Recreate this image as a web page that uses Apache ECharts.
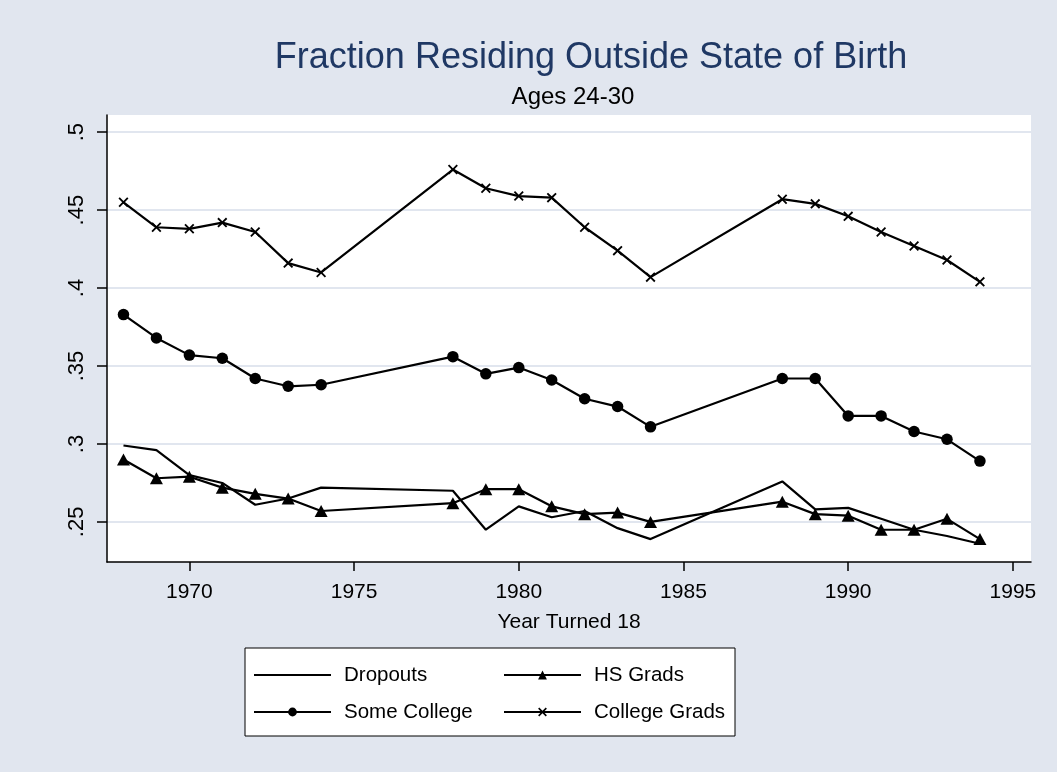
<!DOCTYPE html>
<html>
<head>
<meta charset="utf-8">
<script src="https://cdn.jsdelivr.net/npm/echarts@6/dist/echarts.min.js"></script>
<style>
html,body{margin:0;padding:0;background:#e1e6ef;}
#chart{width:1057px;height:772px;}
</style>
</head>
<body>
<div id="chart"></div>
<script>
const years = [1968,1969,1970,1971,1972,1973,1974,1978,1979,1980,1981,1982,1983,1984,1988,1989,1990,1991,1992,1993,1994];
const dropouts = [.299,.296,.280,.275,.261,.265,.272,.270,.245,.260,.253,.257,.246,.239,.276,.258,.259,.252,.245,.241,.236];
const hsGrads = [.290,.278,.279,.272,.268,.265,.257,.262,.271,.271,.260,.255,.256,.250,.263,.255,.254,.245,.245,.252,.239];
const someCollege = [.383,.368,.357,.355,.342,.337,.338,.356,.345,.349,.341,.329,.324,.311,.342,.342,.318,.318,.308,.303,.289];
const collegeGrads = [.455,.439,.438,.442,.436,.416,.410,.476,.464,.459,.458,.439,.424,.407,.457,.454,.446,.436,.427,.418,.404];
const seriesNames = ['Dropouts','HS Grads','Some College','College Grads'];
const xTicks = [1970,1975,1980,1985,1990,1995];
const yTicks = [0.25,0.3,0.35,0.4,0.45,0.5];
const yTickLabels = ['.25','.3','.35','.4','.45','.5'];

const xSym = 'path://M0,1.3 L1.3,0 L5,3.7 L8.7,0 L10,1.3 L6.3,5 L10,8.7 L8.7,10 L5,6.3 L1.3,10 L0,8.7 L3.7,5 Z';
const pairs = arr => years.map((y,i)=>[y,arr[i]]);

const chart = echarts.init(document.getElementById('chart'), null, {renderer:'canvas'});
const font = 'Liberation Sans, Arial, sans-serif';
const lineBase = {type:'line', lineStyle:{color:'#000',width:2.2}, itemStyle:{color:'#000'}, emphasis:{disabled:true}, animation:false, z:3};

chart.setOption({
  backgroundColor:'#e1e6ef',
  animation:false,
  title:[
    {text:'Fraction Residing Outside State of Birth', left:586, top:35, textAlign:'center',
     textStyle:{fontFamily:font, fontSize:36, fontWeight:'normal', color:'#1f3864'}},
    {text:'Ages 24-30', left:568, top:80, textAlign:'center',
     textStyle:{fontFamily:font, fontSize:24, fontWeight:'normal', color:'#000'}}
  ],
  grid:{left:107, right:26, top:115, bottom:210, show:true, backgroundColor:'#fff', borderWidth:0},
  xAxis:{
    type:'value', min:1967.5, max:1995.55,
    axisLine:{show:true, lineStyle:{color:'#000', width:1.5}},
    axisTick:{show:true, inside:false, length:9, lineStyle:{color:'#000', width:1.5}, customValues:xTicks},
    axisLabel:{fontFamily:font, fontSize:21, color:'#000', margin:20, customValues:xTicks, formatter:v=>String(v)},
    splitLine:{show:false},
    name:'Year Turned 18', nameLocation:'middle', nameGap:50,
    nameTextStyle:{fontFamily:font, fontSize:21, color:'#000'}
  },
  yAxis:{
    type:'value', min:0.2243, max:0.511,
    axisLine:{show:true, lineStyle:{color:'#000', width:1.5}},
    axisTick:{show:true, inside:false, length:10, lineStyle:{color:'#000', width:1.5}, customValues:yTicks},
    axisLabel:{fontFamily:font, fontSize:22, color:'#000', rotate:90, margin:19, customValues:yTicks,
      formatter:v=>{const i=yTicks.findIndex(t=>Math.abs(t-v)<1e-6);return i>=0?yTickLabels[i]:'';}},
    splitLine:{show:true, lineStyle:{color:'#e1e6ef', width:2}}
  },
  legend:[
    {orient:'vertical', left:253, top:663, padding:0, itemGap:13, itemWidth:77, itemHeight:11,
     data:[{name:seriesNames[0], itemStyle:{opacity:0}}, seriesNames[2]],
     textStyle:{fontFamily:font, fontSize:20.5, color:'#000', lineHeight:24, padding:[0,0,0,8]}},
    {orient:'vertical', left:503, top:663, padding:0, itemGap:13, itemWidth:77, itemHeight:11,
     data:[seriesNames[1], seriesNames[3]],
     textStyle:{fontFamily:font, fontSize:20.5, color:'#000', lineHeight:24, padding:[0,0,0,8]}}
  ],
  graphic:[
    {type:'rect', z:0, shape:{x:245, y:648, width:490, height:88},
     style:{fill:'#fff', stroke:'#000', lineWidth:1}}
  ],
  series:[
    Object.assign({}, lineBase, {name:seriesNames[0], data:pairs(dropouts), symbol:'none', showSymbol:false}),
    Object.assign({}, lineBase, {name:seriesNames[1], data:pairs(hsGrads), symbol:'triangle', symbolSize:[13,12], showAllSymbol:true}),
    Object.assign({}, lineBase, {name:seriesNames[2], data:pairs(someCollege), symbol:'circle', symbolSize:11.5, showAllSymbol:true}),
    Object.assign({}, lineBase, {name:seriesNames[3], data:pairs(collegeGrads), symbol:xSym, symbolSize:10, showAllSymbol:true})
  ]
});
</script>
</body>
</html>
